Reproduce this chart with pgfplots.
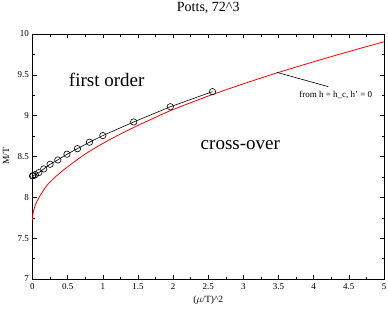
\documentclass[border=0pt]{standalone}
\usepackage{pgfplots}
\pgfplotsset{compat=1.18}
\usepackage{fontspec}
\setmainfont{Liberation Serif}
\begin{document}
\begin{tikzpicture}
\begin{axis}[
  scale only axis,
  width=351.5bp, height=245bp,
  xmin=0, xmax=5, ymin=7, ymax=10,
  xtick={0,0.5,...,5}, ytick={7,7.5,...,10},
  minor x tick num=1, minor y tick num=1,
  tick align=inside,
  major tick length=4bp, minor tick length=2.5bp,
  tick style={black, line width=0.5bp},
  axis line style={line width=0.6bp},
  /pgf/number format/assume math mode=true,
  ticklabel style={font=\fontsize{9bp}{10bp}\selectfont},
  xticklabel style={yshift=-1bp},
  title={Potts, 72\^{}3},
  every axis title/.style={font=\fontsize{14bp}{16bp}\selectfont, at={(axis description cs:0.5,1)}, anchor=center, yshift=26bp},
  xlabel={($\mu$/T)\^{}2},
  every axis x label/.style={font=\fontsize{9.5bp}{11bp}\selectfont, at={(axis description cs:0.5,0)}, anchor=center, yshift=-21bp},
  ylabel={M/T},
  every axis y label/.style={font=\fontsize{9.5bp}{11bp}\selectfont, at={(axis description cs:-0.0754,0.5)}, anchor=center, rotate=90},
  clip=false,
]
\addplot[red, line width=0.8bp, smooth] coordinates {
 (0,7.72) (0.005,7.785) (0.02,7.85) (0.05,7.925) (0.1,8.01) (0.2,8.14)
 (0.3,8.23) (0.4,8.305) (0.5,8.375) (0.75,8.53) (1.0,8.66) (1.25,8.775)
 (1.5,8.88) (1.75,8.98) (2.0,9.075) (2.5,9.24) (3.0,9.39) (3.5,9.53)
 (4.0,9.66) (4.5,9.785) (5.0,9.905)
};
\addplot[black, line width=0.6bp, mark=o, mark size=3.2bp, mark options={line width=0.6bp}] coordinates {
 (0,8.262) (0.01,8.266) (0.04,8.278) (0.09,8.302) (0.16,8.348) (0.25,8.405)
 (0.36,8.458) (0.49,8.528) (0.64,8.596) (0.81,8.675) (1.0,8.756)
 (1.44,8.923) (1.96,9.109) (2.56,9.294)
};
\draw[black, line width=0.6bp] (axis cs:3.474,9.531) -- (axis cs:4.208,9.355);
\node[font=\fontsize{9bp}{10bp}\selectfont, anchor=center] at (axis cs:4.314,9.253) {from h = h\_c, h' = 0};
\node[font=\fontsize{19bp}{22bp}\selectfont, anchor=base] at (axis cs:1.055,9.355) {first order};
\node[font=\fontsize{19bp}{22bp}\selectfont, anchor=base] at (axis cs:2.956,8.58) {cross-over};
\end{axis}
\pgfresetboundingbox
\useasboundingbox ([xshift=-32.5bp,yshift=-35bp]current axis.south west) rectangle ([xshift=4bp,yshift=34bp]current axis.north east);
\end{tikzpicture}
\end{document}
